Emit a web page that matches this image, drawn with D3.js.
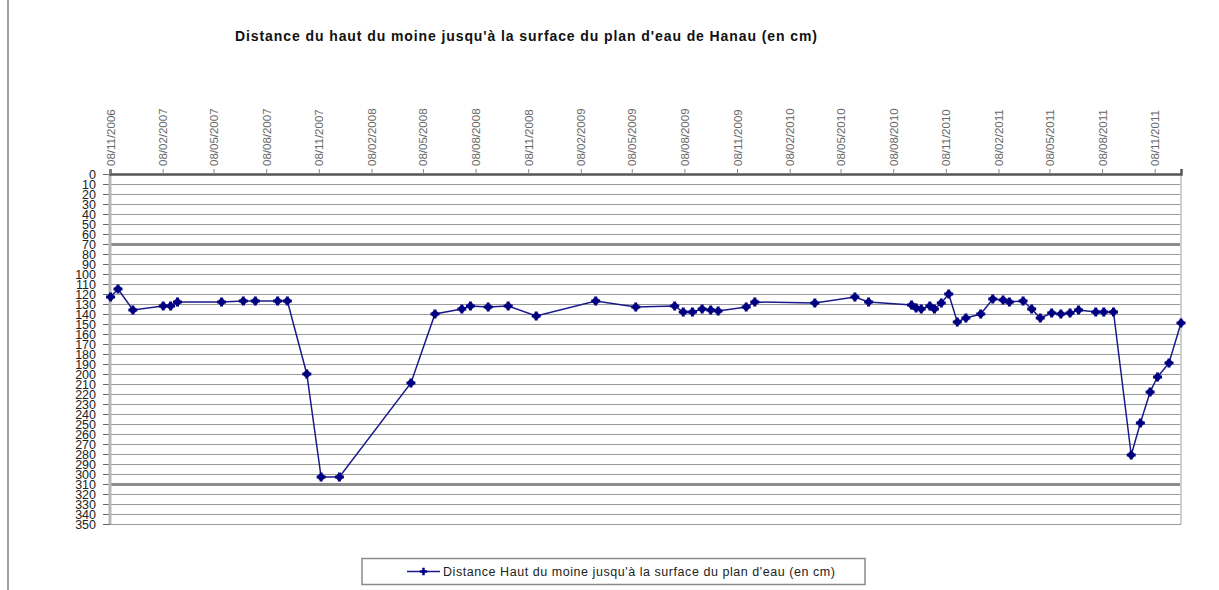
<!DOCTYPE html>
<html>
<head>
<meta charset="utf-8">
<script src="https://cdn.jsdelivr.net/npm/d3@7"></script>
<style>
  body { margin: 0; background: #fff; }
  svg { font-family: "Liberation Sans", Arial, sans-serif; }
</style>
</head>
<body>
<svg></svg>
<script>
// data
var dates = ['09/11/2006','22/11/2006','18/12/2006','09/02/2007','22/02/2007','06/03/2007',
  '22/05/2007','29/06/2007','20/07/2007','28/08/2007','14/09/2007','18/10/2007',
  '12/11/2007','14/12/2007','17/04/2008','29/05/2008','15/07/2008','30/07/2008',
  '30/08/2008','04/10/2008','22/11/2008','06/03/2009','15/05/2009','22/07/2009',
  '06/08/2009','22/08/2009','08/09/2009','23/09/2009','06/10/2009','24/11/2009',
  '09/12/2009','24/03/2010','02/06/2010','26/06/2010','09/09/2010','17/09/2010',
  '26/09/2010','11/10/2010','19/10/2010','31/10/2010','13/11/2010','28/11/2010',
  '13/12/2010','08/01/2011','29/01/2011','16/02/2011','27/02/2011','23/03/2011',
  '07/04/2011','22/04/2011','12/05/2011','28/05/2011','13/06/2011','28/06/2011',
  '28/07/2011','11/08/2011','28/08/2011','28/09/2011','14/10/2011','31/10/2011',
  '13/11/2011','03/12/2011','24/12/2011'];
var distances = [123, 115, 136, 132, 132, 128,
  128, 127, 127, 127, 127, 200,
  303, 303, 209, 140, 135, 132,
  133, 132, 142, 127, 133, 132,
  138, 138, 135, 136, 137, 133,
  128, 129, 123, 128, 131, 134,
  135, 132, 135, 129, 120, 148,
  144, 140, 125, 126, 128, 127,
  135, 144, 139, 140, 139, 136,
  138, 138, 138, 281, 249, 218,
  203, 189, 149];
var xTickLabels = ['08/11/2006','08/02/2007','08/05/2007','08/08/2007','08/11/2007',
  '08/02/2008','08/05/2008','08/08/2008','08/11/2008','08/02/2009','08/05/2009',
  '08/08/2009','08/11/2009','08/02/2010','08/05/2010','08/08/2010','08/11/2010',
  '08/02/2011','08/05/2011','08/08/2011','08/11/2011'];
var yTicks = d3.range(0, 351, 10);
var titleText = "Distance du haut du moine jusqu'à la surface du plan d'eau de Hanau (en cm)";
var legendText = "Distance Haut du moine jusqu'à la surface du plan d'eau (en cm)";

var canvasWidth = 1219;
var canvasHeight = 590;
var margin = { top: 174, left: 110, right: 38, bottom: 66 };
var width = canvasWidth - margin.left - margin.right;
var height = canvasHeight - margin.top - margin.bottom;

var parseDate = d3.timeParse('%d/%m/%Y');
var data = dates.map(function(d, i) { return { date: parseDate(d), value: distances[i] }; });

var svg = d3.select('svg')
  .attr('width', canvasWidth)
  .attr('height', canvasHeight);

// outer frame line on the left
svg.append('line')
  .attr('x1', 8).attr('x2', 8)
  .attr('y1', 0).attr('y2', canvasHeight)
  .attr('stroke', '#a0a0a0')
  .attr('stroke-width', 2);

// title
svg.append('text')
  .attr('x', 235)
  .attr('y', 41)
  .attr('textLength', 582)
  .attr('lengthAdjust', 'spacing')
  .style('font-size', '14px')
  .style('font-weight', 'bold')
  .attr('fill', '#111')
  .text(titleText);

var xScale = d3.scaleTime()
  .domain([parseDate('08/11/2006'), parseDate('24/12/2011')])
  .range([0, width]);
var yScale = d3.scaleLinear().domain([0, 350]).range([0, height]);

var graphArea = svg.append('g')
  .attr('transform', 'translate(' + margin.left + ',' + margin.top + ')');

// horizontal grid
graphArea.selectAll('.grid')
  .data(yTicks)
  .enter().append('line')
  .attr('class', 'grid')
  .attr('x1', 0)
  .attr('x2', width)
  .attr('y1', function(d) { return Math.round(yScale(d)) + 0.5; })
  .attr('y2', function(d) { return Math.round(yScale(d)) + 0.5; })
  .attr('stroke', function(d) { return (d == 70 || d == 310) ? '#8c8c8c' : '#9a9a9a'; })
  .attr('stroke-width', function(d) { return (d == 70 || d == 310) ? 3 : 1.2; });

// left axis
var yAxis = graphArea.append('g')
  .attr('class', 'y axis')
  .call(d3.axisLeft(yScale).tickValues(yTicks).tickSize(7).tickPadding(7));
yAxis.select('.domain').remove();
yAxis.selectAll('.tick line').attr('stroke', '#666');
yAxis.selectAll('.tick text')
  .style('font-size', '12.5px')
  .attr('fill', '#222');
graphArea.append('line')
  .attr('x1', 0).attr('x2', 0)
  .attr('y1', 0).attr('y2', height)
  .attr('stroke', '#b8b8b8')
  .attr('stroke-width', 3);
graphArea.append('line')
  .attr('x1', width).attr('x2', width)
  .attr('y1', 0).attr('y2', height)
  .attr('stroke', '#cfcfcf')
  .attr('stroke-width', 2);

// top date axis
var xAxis = graphArea.append('g')
  .attr('class', 'x axis')
  .call(d3.axisTop(xScale)
    .tickValues(xTickLabels.map(parseDate))
    .tickFormat(d3.timeFormat('%d/%m/%Y'))
    .tickSize(5));
xAxis.select('.domain')
  .attr('stroke', '#555')
  .attr('stroke-width', 2.5);
xAxis.selectAll('.tick line').attr('stroke', '#888');
xAxis.selectAll('.tick text')
  .attr('transform', 'rotate(-90)')
  .attr('x', 8)
  .attr('y', 0)
  .attr('dy', '0.35em')
  .style('text-anchor', 'start')
  .style('font-size', '11.5px')
  .attr('fill', '#666');

// series
var line = d3.line()
  .x(function(d) { return xScale(d.date); })
  .y(function(d) { return yScale(d.value); });

graphArea.append('path')
  .datum(data)
  .attr('fill', 'none')
  .attr('stroke', '#1a1a8c')
  .attr('stroke-width', 1.5)
  .attr('d', line);

var marks = graphArea.selectAll('.dot')
  .data(data)
  .enter().append('g')
  .attr('class', 'dot')
  .attr('transform', function(d) { return 'translate(' + xScale(d.date) + ',' + yScale(d.value) + ')'; });
marks.append('circle')
  .attr('r', 3.2)
  .attr('fill', '#000080');
marks.append('path')
  .attr('d', d3.symbol().type(d3.symbolCross).size(45))
  .attr('fill', '#000080');

// legend
var legend = svg.append('g').attr('class', 'legend');
legend.append('rect')
  .attr('x', 362)
  .attr('y', 558.5)
  .attr('width', 503)
  .attr('height', 26)
  .attr('fill', '#fff')
  .attr('stroke', '#8a8a8a')
  .attr('stroke-width', 1.5);
legend.append('line')
  .attr('x1', 407).attr('x2', 440)
  .attr('y1', 571.5).attr('y2', 571.5)
  .attr('stroke', '#1a1a8c')
  .attr('stroke-width', 1.5);
legend.append('path')
  .attr('transform', 'translate(423.5,571.5)')
  .attr('d', d3.symbol().type(d3.symbolCross).size(30))
  .attr('fill', '#000080');
legend.append('text')
  .attr('x', 443)
  .attr('y', 571.5)
  .attr('dy', '0.35em')
  .attr('textLength', 392)
  .attr('lengthAdjust', 'spacing')
  .style('font-size', '12.5px')
  .attr('fill', '#222')
  .text(legendText);
</script>
</body>
</html>
